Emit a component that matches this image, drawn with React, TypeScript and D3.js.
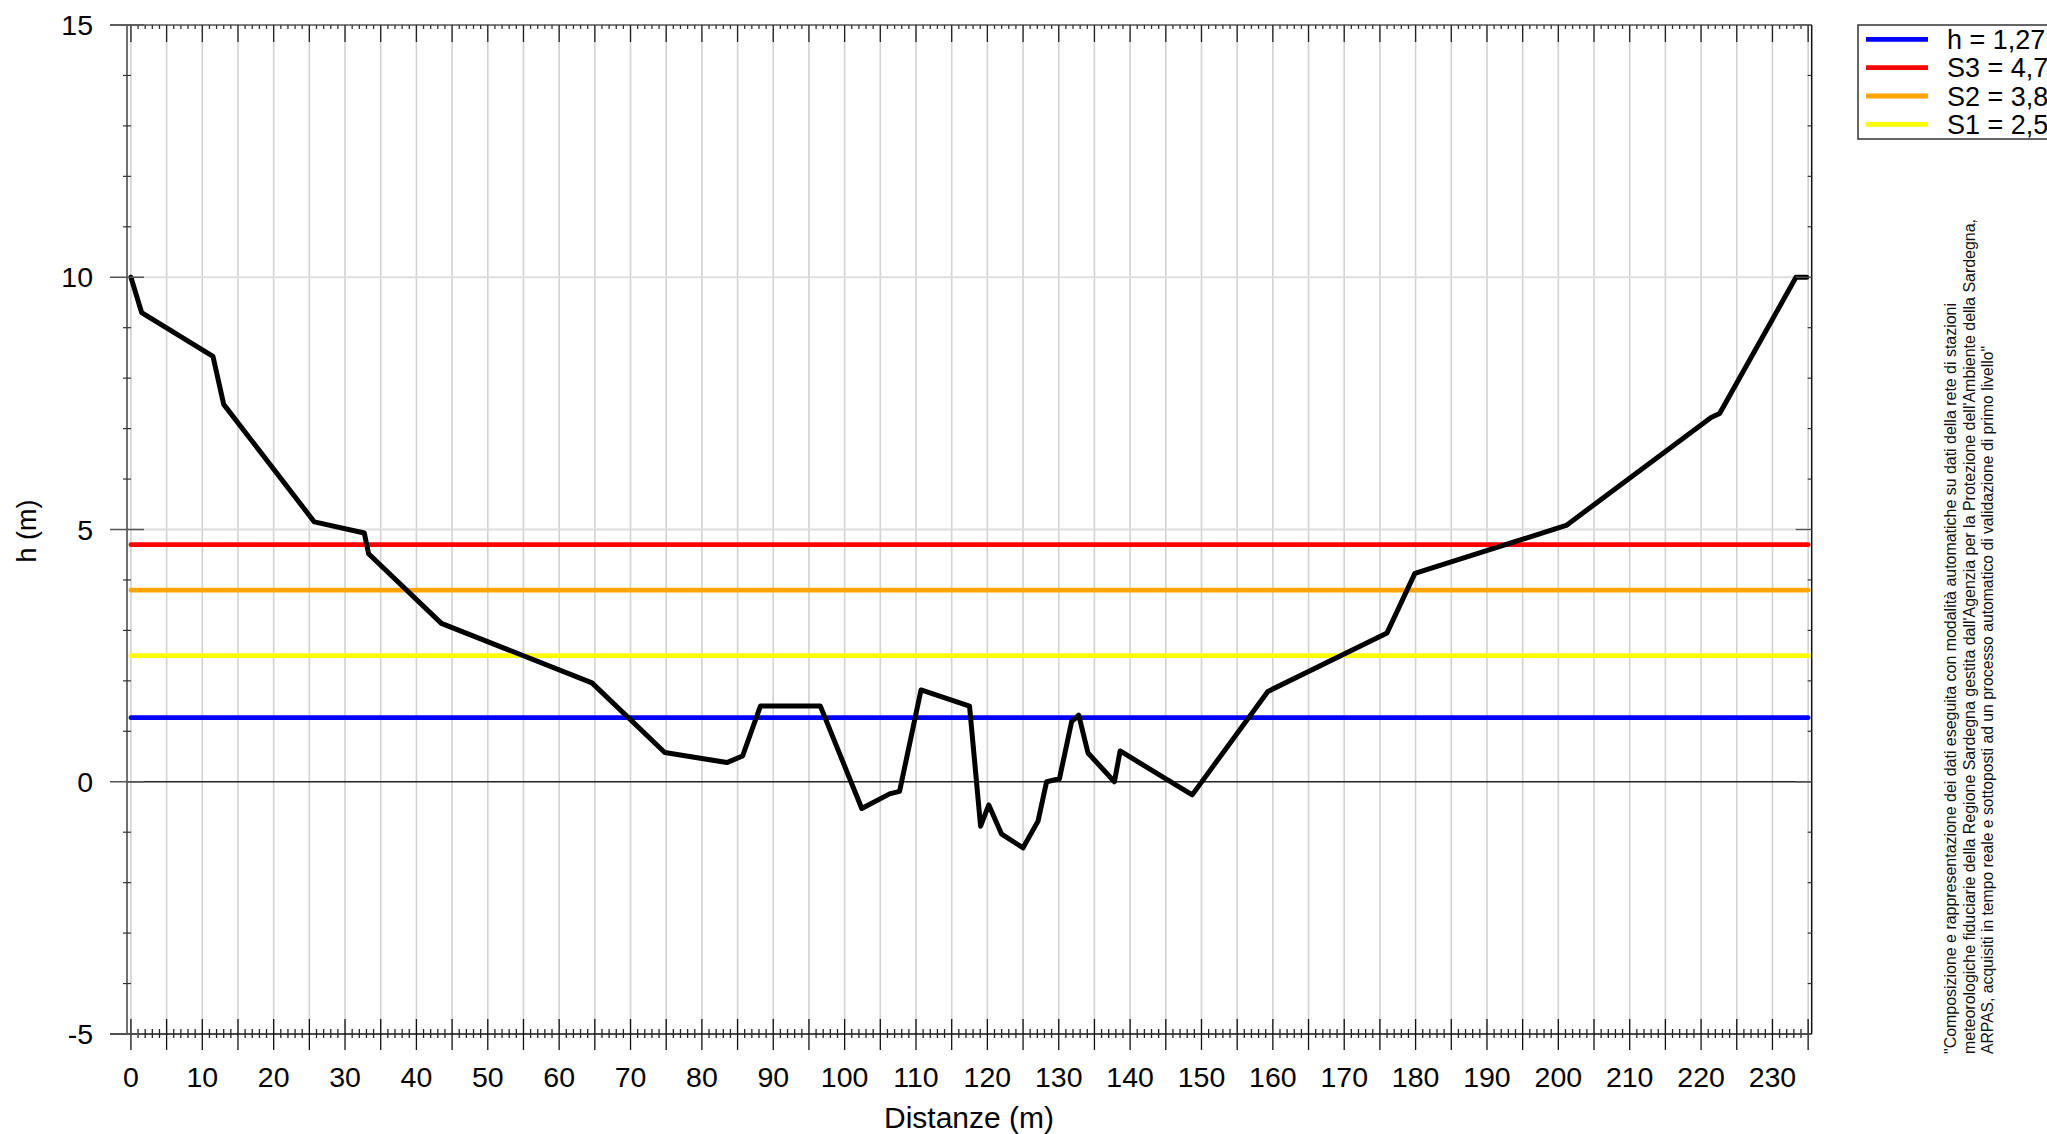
import React from 'react';
import * as d3 from 'd3';

// section profile (distance m, height m)
const distances = [
  0, 1.5, 11.5, 13.0, 25.7, 32.7, 33.3, 43.5, 64.6, 74.8, 83.5, 85.7, 88.2, 96.6,
  102.4, 106.3, 107.7, 110.7, 117.5, 119.05, 120.2, 122.0, 125.0, 127.1, 128.3,
  130.1, 131.8, 132.8, 134.1, 137.8, 138.6, 148.7, 159.3, 176.0, 179.9, 201.1,
  221.4, 222.6, 233.3, 234.8,
];
const heights = [
  10.0, 9.3, 8.43, 7.48, 5.15, 4.93, 4.52, 3.14, 1.96, 0.58, 0.38, 0.51, 1.5, 1.5,
  -0.53, -0.24, -0.19, 1.82, 1.5, -0.88, -0.46, -1.04, -1.31, -0.78, 0.0,
  0.06, 1.19, 1.32, 0.57, 0.0, 0.61, -0.26, 1.79, 2.95, 4.13, 5.08,
  7.22, 7.3, 10.0, 10.0,
];

// threshold levels
const levelNames = ['h = 1,27', 'S3 = 4,7', 'S2 = 3,8', 'S1 = 2,5'];
const levelValues = [1.27, 4.7, 3.8, 2.5];
const levelColors = ['#0000ff', '#ff0000', '#ffa500', '#ffff00'];

const xLabels = d3.range(0, 231, 10);
const yLabels = [-5, 0, 5, 10, 15];

const noteLines = [
  '"Composizione e rappresentazione dei dati eseguita con modalità automatiche su dati della rete di stazioni',
  "meteorologiche fiduciarie della Regione Sardegna gestita dall'Agenzia per la Protezione dell'Ambiente della Sardegna,",
  'ARPAS, acquisiti in tempo reale e sottoposti ad un processo automatico di validazione di primo livello"',
];
const noteLengths = [751, 835, 708];

const W = 2047;
const H = 1134;
const font = "'Liberation Sans', Arial, sans-serif";

export default function App() {
  const x = d3.scaleLinear().domain([-0.55, 235.5]).range([127, 1811.7]);
  const y = d3.scaleLinear().domain([-5, 15]).range([1034, 25]);
  const left = x(-0.55);
  const right = x(235.5);
  const top = y(15);
  const bottom = y(-5);

  const pts = distances.map((d, i) => [d, heights[i]] as [number, number]);
  const line = d3
    .line<[number, number]>()
    .x(d => x(d[0]))
    .y(d => y(d[1]));

  const xMajor = d3.range(0, 236, 5);
  const xMinor = d3.range(0, 236, 1).filter(v => v % 5 !== 0);
  const yMajor = d3.range(-5, 16, 5);
  const yMinor = d3.range(-5, 16, 1).filter(v => v % 5 !== 0);

  return (
    <svg
      width={W}
      height={H}
      style={{ position: 'absolute', left: 0, top: 0, background: '#fff' }}
      fontFamily={font}
    >
      <rect x={0} y={0} width={W} height={H} fill="#fff" />

      {/* grid */}
      {xMajor.map(v => (
        <line key={'gx' + v} x1={x(v)} x2={x(v)} y1={top} y2={bottom} stroke="#d2d2d2" strokeWidth={1.6} />
      ))}
      {[5, 10].map(v => (
        <line key={'gy' + v} x1={left} x2={right} y1={y(v)} y2={y(v)} stroke="#dedede" strokeWidth={2} />
      ))}
      <line x1={left} x2={right} y1={y(0)} y2={y(0)} stroke="#222" strokeWidth={1.3} />

      {/* threshold lines */}
      {levelValues.map((v, i) => (
        <line
          key={'lv' + i}
          x1={x(0)}
          x2={x(235)}
          y1={y(v)}
          y2={y(v)}
          stroke={levelColors[i]}
          strokeWidth={4.8}
          strokeLinecap="round"
        />
      ))}

      {/* profile */}
      <path
        d={line(pts) ?? ''}
        fill="none"
        stroke="#000"
        strokeWidth={5}
        strokeLinejoin="round"
        strokeLinecap="round"
      />

      {/* frame */}
      <line x1={110} x2={right} y1={top} y2={top} stroke="#555" strokeWidth={1.5} />
      <line x1={110} x2={right} y1={bottom} y2={bottom} stroke="#111" strokeWidth={1.5} />
      <line x1={left} x2={left} y1={top} y2={bottom} stroke="#707070" strokeWidth={2} />
      <line x1={right} x2={right} y1={top} y2={bottom} stroke="#111" strokeWidth={1.5} />

      {/* bottom ticks */}
      {xMajor.map(v => (
        <line key={'bt' + v} x1={x(v)} x2={x(v)} y1={bottom - 15} y2={bottom + 16} stroke="#111" strokeWidth={1.3} />
      ))}
      {xMinor.map(v => (
        <line key={'bm' + v} x1={x(v)} x2={x(v)} y1={bottom - 5} y2={bottom + 4} stroke="#222" strokeWidth={1.3} />
      ))}
      {/* top ticks */}
      {xMajor.map(v => (
        <line key={'tt' + v} x1={x(v)} x2={x(v)} y1={top} y2={top + 17} stroke="#222" strokeWidth={1.3} />
      ))}
      {xMinor.map(v => (
        <line key={'tm' + v} x1={x(v)} x2={x(v)} y1={top} y2={top + 4} stroke="#333" strokeWidth={1.3} />
      ))}
      {/* left ticks */}
      {yMajor.map(v => (
        <line key={'lt' + v} x1={110} x2={144} y1={y(v)} y2={y(v)} stroke="#555" strokeWidth={1.3} />
      ))}
      {yMinor.map(v => (
        <line key={'lm' + v} x1={123} x2={131} y1={y(v)} y2={y(v)} stroke="#333" strokeWidth={1.2} />
      ))}
      {/* right ticks */}
      {yMajor.map(v => (
        <line key={'rt' + v} x1={right - 16} x2={right} y1={y(v)} y2={y(v)} stroke="#555" strokeWidth={1.3} />
      ))}
      {yMinor.map(v => (
        <line key={'rm' + v} x1={right - 4} x2={right} y1={y(v)} y2={y(v)} stroke="#333" strokeWidth={1.2} />
      ))}

      {/* tick labels */}
      {xLabels.map(v => (
        <text key={'xl' + v} x={x(v)} y={1087} fontSize={28.5} textAnchor="middle" fill="#000">
          {v}
        </text>
      ))}
      {yLabels.map(v => (
        <text key={'yl' + v} x={93} y={y(v) + 10} fontSize={28.5} textAnchor="end" fill="#000">
          {v}
        </text>
      ))}

      {/* axis titles */}
      <text x={969} y={1128} fontSize={30} textAnchor="middle" fill="#000">
        Distanze (m)
      </text>
      <text
        transform={`translate(36,531) rotate(-90)`}
        fontSize={27}
        textAnchor="middle"
        fill="#000"
      >
        h (m)
      </text>

      {/* legend */}
      <rect x={1858} y={25} width={260} height={114} fill="#fff" stroke="#333" strokeWidth={1.5} />
      {levelNames.map((name, i) => (
        <g key={'lg' + i}>
          <line
            x1={1866}
            x2={1928}
            y1={39.3 + i * 28.35}
            y2={39.3 + i * 28.35}
            stroke={levelColors[i]}
            strokeWidth={4.8}
          />
          <text x={1947} y={39.3 + i * 28.35 + 9.5} fontSize={27} fill="#000">
            {name}
          </text>
        </g>
      ))}

      {/* note */}
      {noteLines.map((t, i) => (
        <text
          key={'nt' + i}
          transform={`translate(${1956 + i * 18.5},1054) rotate(-90)`}
          fontSize={16}
          textLength={noteLengths[i]}
          lengthAdjust="spacingAndGlyphs"
          fill="#111"
        >
          {t}
        </text>
      ))}
    </svg>
  );
}
